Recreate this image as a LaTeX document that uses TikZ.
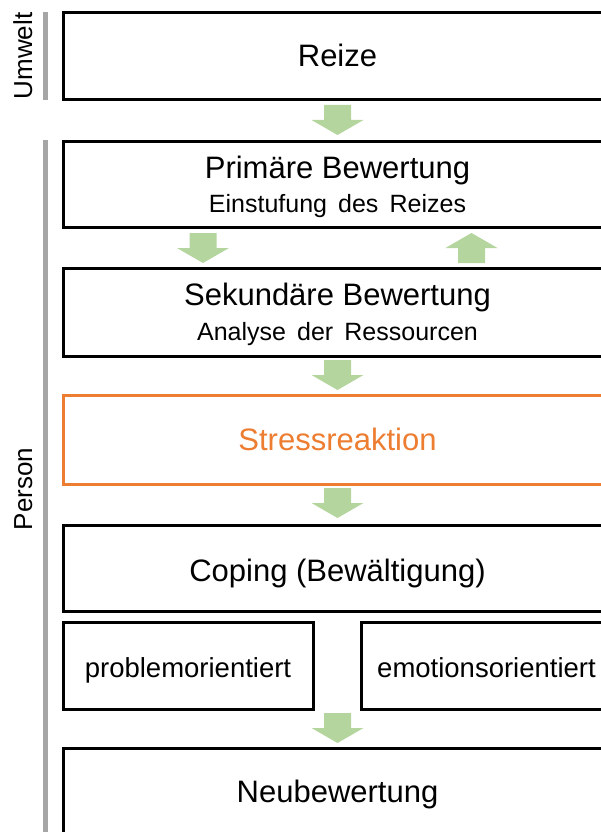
\documentclass[tikz,border=0pt]{standalone}
\usepackage{fontspec}
\setmainfont{Liberation Sans}
\newfontfamily\subfamily[WordSpace=1.6]{Liberation Sans}
\definecolor{arrowgreen}{HTML}{B4D59E}
\definecolor{stressorange}{HTML}{ED7D31}
\definecolor{bargray}{HTML}{A6A6A6}
\newcommand\ttlfnt{\fontsize{31}{36}\selectfont}
\newcommand\subfnt{\subfamily\fontsize{25}{28}\selectfont}
\newcommand\smlfnt{\fontsize{27.5}{32}\selectfont}
\newcommand\sidefnt{\fontsize{26}{30}\selectfont}
\tikzset{
  box/.style={draw=black, line width=3pt, fill=white, rectangle, anchor=north west, outer sep=0pt, inner sep=0pt},
  txt/.style={anchor=base, inner sep=0pt},
  dnarrow/.pic={\fill[arrowgreen] (-13.5,0) -- (13.5,0) -- (13.5,15) -- (26,15) -- (0,30) -- (-26,15) -- (-13.5,15) -- cycle;},
  uparrow/.pic={\fill[arrowgreen] (0,0) -- (26,15) -- (13.5,15) -- (13.5,30) -- (-13.5,30) -- (-13.5,15) -- (-26,15) -- cycle;}
}
\begin{document}
\begin{tikzpicture}[x=1pt,y=-1pt]
\useasboundingbox (0,0) rectangle (601,832);
\clip (0,0) rectangle (601,832);
% side bars and labels
\draw[bargray, line width=5pt] (45.5,12) -- (45.5,100);
\draw[bargray, line width=5pt] (45.5,140) -- (45.5,840);
\node[txt, rotate=90, font=\sidefnt] (umwelt) at (32,56) {Umwelt};
\node[txt, rotate=90, font=\sidefnt] (person) at (32,489) {Person};
% boxes
\node[box, minimum width=548.5pt, minimum height=87.5pt] (reize) at (63.5,12.5) {};
\node[box, minimum width=548.5pt, minimum height=86.5pt] (prim) at (63.5,141) {};
\node[box, minimum width=548.5pt, minimum height=88pt] (sek) at (63.5,268) {};
\node[box, draw=stressorange, minimum width=548.5pt, minimum height=88.5pt] (stress) at (63.5,395.5) {};
\node[box, minimum width=548.5pt, minimum height=86.5pt] (coping) at (63.5,525) {};
\node[box, minimum width=249.5pt, minimum height=87.5pt] (problem) at (63.5,622) {};
\node[box, minimum width=251pt, minimum height=87.5pt] (emotion) at (361,622) {};
\node[box, minimum width=548.5pt, minimum height=100pt] (neu) at (63.5,748) {};
% texts
\node[txt, font=\ttlfnt] (reizeT) at (337.5,67) {Reize};
\node[txt, font=\ttlfnt] (primT) at (337.5,178) {Primäre Bewertung};
\node[txt, font=\subfnt] (primS) at (337.5,212.5) {Einstufung des Reizes};
\node[txt, font=\ttlfnt] (sekT) at (337.5,305) {Sekundäre Bewertung};
\node[txt, font=\subfnt] (sekS) at (337.5,340.5) {Analyse der Ressourcen};
\node[txt, font=\ttlfnt, text=stressorange] (stressT) at (337.5,450.5) {Stressreaktion};
\node[txt, font=\ttlfnt] (copingT) at (337.5,581.5) {Coping (Bewältigung)};
\node[txt, font=\smlfnt] (problemT) at (188,677) {problemorientiert};
\node[txt, font=\smlfnt] (emotionT) at (486.5,677) {emotionsorientiert};
\node[txt, font=\ttlfnt] (neuT) at (337.5,802.5) {Neubewertung};
% arrows
\pic at (337.5,105) {dnarrow};
\pic at (203,233) {dnarrow};
\pic at (471.5,233) {uparrow};
\pic at (337.5,360) {dnarrow};
\pic at (337.5,488) {dnarrow};
\pic at (337.5,713) {dnarrow};
\end{tikzpicture}
\end{document}
